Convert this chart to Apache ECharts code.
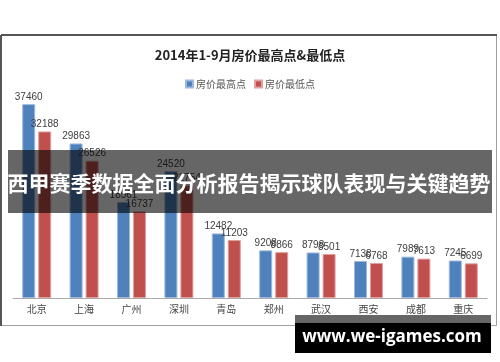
<!DOCTYPE html>
<html><head><meta charset="utf-8">
<script src="https://cdn.jsdelivr.net/npm/echarts@6/dist/echarts.min.js"></script>
<style>html,body{margin:0;padding:0;background:#fff}#c{width:500px;height:362px}</style>
</head><body><div id="c"></div>
<script>
const categories = ['北京','上海','广州','深圳','青岛','郑州','武汉','西安','成都','重庆'];
const highValues = [37460, 29863, 18561, 24520, 12482, 9208, 8798, 7138, 7989, 7245];
const lowValues  = [32188, 26526, 16737, 21754, 11203, 8866, 8501, 6768, 7613, 6699];
const seriesNames = ['房价最高点','房价最低点'];
const titleText = '2014年1-9月房价最高点&最低点';
const bannerText = '西甲赛季数据全面分析报告揭示球队表现与关键趋势';
const watermarkText = 'www.we-igames.com';

const cjk = '"Noto Sans CJK SC", sans-serif';
const chart = echarts.init(document.getElementById('c'), null, {renderer:'canvas'});
const labelStyle = {show:true, position:'top', distance:2, fontSize:10, color:'#404040', fontFamily:'"Liberation Sans", Arial, sans-serif'};
chart.setOption({
  animation:false,
  backgroundColor:'#fff',
  title:{text:titleText, left:'center', top:44, textStyle:{fontSize:13, fontWeight:'bold', color:'#222', fontFamily:cjk}},
  legend:{data:seriesNames, top:74, left:'center', itemWidth:7, itemHeight:7, itemGap:8, icon:'rect',
    textStyle:{fontSize:10, color:'#555', fontFamily:cjk, padding:[0,0,0,-2]}},
  grid:{left:13, right:13, top:91, bottom:64},
  xAxis:{type:'category', data:categories, axisTick:{show:false},
    axisLine:{lineStyle:{color:'#aaa'}},
    axisLabel:{fontSize:10, color:'#444', margin:6, fontFamily:cjk}},
  yAxis:{type:'value', min:0, max:40000, show:false, splitLine:{show:false}},
  series:[
    {name:seriesNames[0], type:'bar', data:highValues, barWidth:13, barGap:'23%',
      itemStyle:{color:'#4F81BD', borderColor:'#9DB8DC', borderWidth:1}, label:labelStyle},
    {name:seriesNames[1], type:'bar', data:lowValues, barWidth:13,
      itemStyle:{color:'#C0504D', borderColor:'#E0A09E', borderWidth:1}, label:labelStyle}
  ],
  graphic:[
    {type:'rect', z:50, shape:{x:1.5, y:35.5, width:495, height:290}, style:{fill:'none', stroke:'#a0a0a0', lineWidth:1}},
    {type:'line', z:51, shape:{x1:1, y1:35, x2:497, y2:35}, style:{stroke:'#555', lineWidth:2}},
    {type:'line', z:51, shape:{x1:1, y1:35, x2:1, y2:326}, style:{stroke:'#555', lineWidth:2}},
    {type:'rect', z:100, shape:{x:8, y:150, width:484, height:63}, style:{fill:'rgba(0,0,0,0.6)'}},
    {type:'text', z:101, x:249, y:183, style:{text:bannerText, fill:'#fff', fontSize:21, fontWeight:'bold', fontFamily:cjk, align:'center', verticalAlign:'middle'}},
    {type:'rect', z:100, shape:{x:295, y:315, width:196, height:10}, style:{fill:'rgba(0,0,0,0.6)'}},
    {type:'rect', z:100, shape:{x:295, y:323, width:196, height:30}, style:{fill:'#000'}},
    {type:'text', z:101, x:392, y:337, style:{text:watermarkText, fill:'#fff', fontSize:17, fontWeight:'bold', fontFamily:'"Open Sans", "DejaVu Sans", sans-serif', align:'center', verticalAlign:'middle'}}
  ]
});
</script></body></html>
